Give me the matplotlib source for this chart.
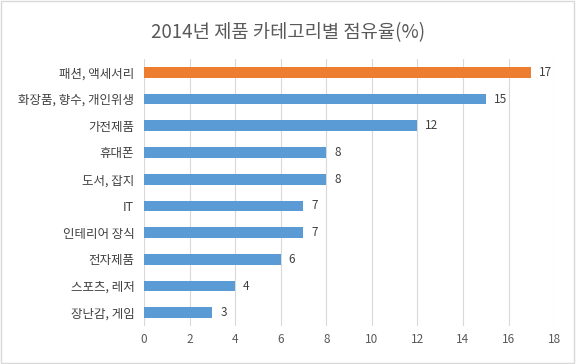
import matplotlib
matplotlib.use("Agg")
import matplotlib.pyplot as plt
from matplotlib.patches import Rectangle

plt.rcParams['font.family'] = ['Noto Sans CJK KR', 'DejaVu Sans']

# ── data ──────────────────────────────────────────────────────────────────────
categories = ['패션, 액세서리', '화장품, 향수, 개인위생', '가전제품', '휴대폰', '도서, 잡지',
              'IT', '인테리어 장식', '전자제품', '스포츠, 레저', '장난감, 게임']
shares = [17, 15, 12, 8, 8, 7, 7, 6, 4, 3]
highlight = '패션, 액세서리'
x_ticks = [0, 2, 4, 6, 8, 10, 12, 14, 16, 18]

# ── plot ──────────────────────────────────────────────────────────────────────
fig = plt.figure(figsize=(5.76, 3.64), dpi=100)
ax = fig.add_axes([0.25, 0.104, 0.712, 0.734])

colors = ['#ED7D31' if c == highlight else '#5B9BD5' for c in categories]
ypos = list(range(len(categories)))
ax.barh(ypos, shares, height=0.4, color=colors, zorder=3)

for y, v in zip(ypos, shares):
    ax.text(v + 0.35, y, str(v), va='center', ha='left', fontsize=8.5, color='#404040')

ax.set_yticks(ypos)
ax.set_yticklabels(categories, fontsize=9, fontweight='medium', color='#404040')
ax.set_ylim(len(categories) - 0.5, -0.5)

ax.set_xlim(0, 18)
ax.set_xticks(x_ticks)
ax.set_xticklabels([str(t) for t in x_ticks], fontsize=8.5, color='#595959')
ax.grid(axis='x', color='#D9D9D9', linewidth=0.8, zorder=0)
ax.tick_params(axis='x', length=0, pad=5)
ax.tick_params(axis='y', length=0, pad=7)
for s in ax.spines.values():
    s.set_visible(False)

fig.text(0.5, 0.91, '2014년 제품 카테고리별 점유율(%)', ha='center', va='center',
         fontsize=13.5, color='#595959')

fig.patches.append(Rectangle((0.002, 0.003), 0.995, 0.993, transform=fig.transFigure,
                             fill=False, edgecolor='#D9D9D9', linewidth=1))

plt.savefig('out.png', dpi=100)
plt.close()
